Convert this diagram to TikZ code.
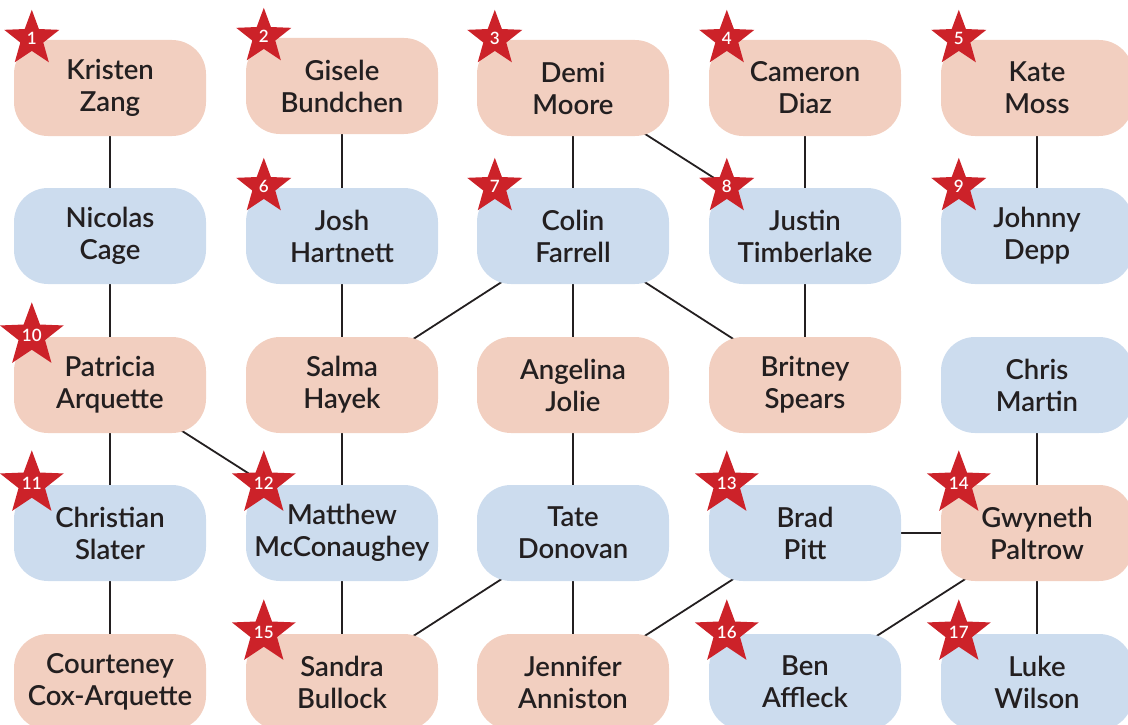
\documentclass[tikz,border=0pt]{standalone}
\usepackage{fontspec}
\setmainfont{Lato}[BoldFont={Lato Semibold}]
\usetikzlibrary{shapes.geometric,backgrounds,calc}
\definecolor{pinkfill}{HTML}{F2CFC0}
\definecolor{bluefill}{HTML}{CCDCEE}
\definecolor{starred}{HTML}{CC2229}
\definecolor{ink}{HTML}{231F20}
\tikzset{
  person/.style={rounded corners=34pt, minimum width=192pt, minimum height=96pt,
    inner sep=0pt, align=center, text=ink,
    font=\fontsize{27.5}{32}\selectfont\bfseries},
  fem/.style={person, fill=pinkfill},
  mal/.style={person, fill=bluefill},
  badge/.style={star, star points=5, star point ratio=2.4, fill=starred,
    minimum size=58pt, inner sep=0pt, text=white,
    font=\fontsize{17}{17}\selectfont\bfseries},
  link/.style={draw=ink, line width=1.8pt}
}
\newcommand{\badgeat}[2]{\node[badge] (s#2) at ($(#1.north west)+(18,-1)$) {\raisebox{-3pt}{#2}};}
\begin{document}
\begin{tikzpicture}[x=1pt,y=-1pt]
\useasboundingbox (0,0) rectangle (1128,725);
% column 1
\node[fem] (kz) at (110,88) {Kristen\\Zang};
\node[mal] (nc) at (110,236) {Nicolas\\Cage};
\node[fem] (pa) at (110,385) {Patricia\\Arquette};
\node[mal] (cs) at (110,533) {Christian\\Slater};
\node[fem] (cc) at (110,682) {Courteney\\Cox-Arquette};
% column 2
\node[fem] (gb) at (342,86) {Gisele\\Bundchen};
\node[mal] (jh) at (342,236) {Josh\\Hartnett};
\node[fem] (sh) at (342,385) {Salma\\Hayek};
\node[mal] (mm) at (342,533) {Matthew\\McConaughey};
\node[fem] (sb) at (342,682) {Sandra\\Bullock};
% column 3
\node[fem] (dm) at (573,88) {Demi\\Moore};
\node[mal] (cf) at (573,236) {Colin\\Farrell};
\node[fem] (aj) at (573,385) {Angelina\\Jolie};
\node[mal] (td) at (573,533) {Tate\\Donovan};
\node[fem] (ja) at (573,682) {Jennifer\\Anniston};
% column 4
\node[fem] (cd) at (805,88) {Cameron\\Diaz};
\node[mal] (jt) at (805,236) {Justin\\Timberlake};
\node[fem] (bs) at (805,385) {Britney\\Spears};
\node[mal] (bp) at (805,533) {Brad\\Pitt};
\node[mal] (ba) at (805,682) {Ben\\Affleck};
% column 5
\node[fem] (km) at (1037,88) {Kate\\Moss};
\node[mal] (jd) at (1037,236) {Johnny\\Depp};
\node[mal] (cm) at (1037,385) {Chris\\Martin};
\node[fem] (gp) at (1037,533) {Gwyneth\\Paltrow};
\node[mal] (lw) at (1037,682) {Luke\\Wilson};
% connectors
\begin{scope}[on background layer]
\draw[link] (kz.center) -- (nc.center);
\draw[link] (nc.center) -- (pa.center);
\draw[link] (pa.center) -- (cs.center);
\draw[link] (cs.center) -- (cc.center);
\draw[link] (pa.center) -- (mm.center);
\draw[link] (gb.center) -- (jh.center);
\draw[link] (jh.center) -- (sh.center);
\draw[link] (sh.center) -- (mm.center);
\draw[link] (mm.center) -- (sb.center);
\draw[link] (dm.center) -- (cf.center);
\draw[link] (dm.center) -- (jt.center);
\draw[link] (cf.center) -- (sh.center);
\draw[link] (cf.center) -- (aj.center);
\draw[link] (cf.center) -- (bs.center);
\draw[link] (cd.center) -- (jt.center);
\draw[link] (jt.center) -- (bs.center);
\draw[link] (aj.center) -- (td.center);
\draw[link] (td.center) -- (sb.center);
\draw[link] (td.center) -- (ja.center);
\draw[link] (km.center) -- (jd.center);
\draw[link] (cm.center) -- (gp.center);
\draw[link] (bp.center) -- (gp.center);
\draw[link] (bp.center) -- (ja.center);
\draw[link] (gp.center) -- (ba.center);
\draw[link] (gp.center) -- (lw.center);
\end{scope}
% badges
\badgeat{kz}{1}
\badgeat{gb}{2}
\badgeat{dm}{3}
\badgeat{cd}{4}
\badgeat{km}{5}
\badgeat{jh}{6}
\badgeat{cf}{7}
\badgeat{jt}{8}
\badgeat{jd}{9}
\badgeat{pa}{10}
\badgeat{cs}{11}
\badgeat{mm}{12}
\badgeat{bp}{13}
\badgeat{gp}{14}
\badgeat{sb}{15}
\badgeat{ba}{16}
\badgeat{lw}{17}
\end{tikzpicture}
\end{document}
